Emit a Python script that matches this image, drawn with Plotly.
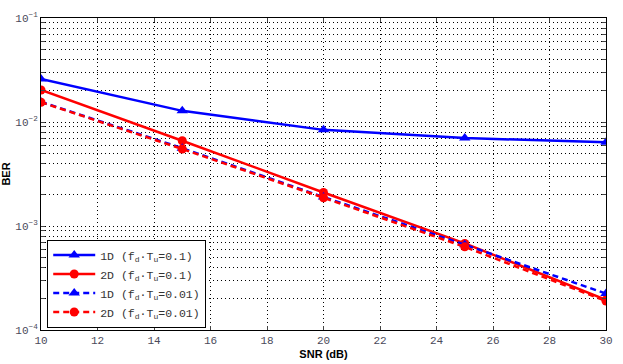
import plotly.graph_objects as go

snr = [10, 15, 20, 25, 30]
ber_1d_01 = [0.0259, 0.0128, 0.0084, 0.0070, 0.0064]
ber_2d_01 = [0.0203, 0.0066, 0.0021, 0.00068, 0.000195]
ber_1d_001 = [0.0156, 0.0056, 0.0019, 0.00066, 0.000224]
ber_2d_001 = [0.0155, 0.0055, 0.00187, 0.00063, 0.00019]

names = ["1D (f<sub>d</sub>·T<sub>u</sub>=0.1)", "2D (f<sub>d</sub>·T<sub>u</sub>=0.1)",
         "1D (f<sub>d</sub>·T<sub>u</sub>=0.01)", "2D (f<sub>d</sub>·T<sub>u</sub>=0.01)"]
series = [ber_1d_01, ber_2d_01, ber_1d_001, ber_2d_001]
colors = ["#0000ff", "#ff0000", "#0000ff", "#ff0000"]
symbols = ["triangle-up", "circle", "triangle-up", "circle"]
dashes = ["solid", "solid", "6px,4px", "6px,4px"]

x_ticks = list(range(10, 31, 2))
y_major = [1e-4, 1e-3, 1e-2, 1e-1]
y_major_text = ["10<sup>−4</sup>", "10<sup>−3</sup>", "10<sup>−2</sup>", "10<sup>−1</sup>"]

yvals, ytext = [], []
for i, d in enumerate(y_major[:-1]):
    for m in range(1, 10):
        yvals.append(m * d)
        ytext.append(y_major_text[i] if m == 1 else "")
yvals.append(y_major[-1])
ytext.append(y_major_text[-1])

fig = go.Figure()
for name, ys, c, s, d in zip(names, series, colors, symbols, dashes):
    fig.add_trace(go.Scatter(
        x=snr, y=ys, name=name, mode="lines+markers",
        line=dict(color=c, width=2.5, dash=d),
        marker=dict(symbol=s, size=9 if s == "circle" else 10, color=c),
    ))

tickfont = dict(family="Liberation Mono, Courier New, monospace", size=11, color="#4a4a5a")

fig.update_layout(
    width=623, height=364,
    margin=dict(l=41, r=17, t=18, b=34, autoexpand=False),
    paper_bgcolor="white", plot_bgcolor="white",
    font=dict(family="Liberation Sans, Arial, sans-serif", color="black"),
    showlegend=True,
    legend=dict(
        x=0.011, y=0.008, xanchor="left", yanchor="bottom",
        bgcolor="white", bordercolor="black", borderwidth=1,
        font=dict(family="Liberation Mono, Courier New, monospace", size=11.5, color="#333333"),
        tracegroupgap=0, itemwidth=42,
    ),
    xaxis=dict(
        range=[10, 30], tickvals=x_ticks, ticks="inside", ticklen=4,
        showline=True, linecolor="black", linewidth=1, mirror="ticks",
        showgrid=True, gridcolor="black", griddash="1px,3px", gridwidth=1,
        zeroline=False, tickfont=tickfont, automargin=False,
        title=dict(text="<b>SNR (dB)</b>", font=dict(size=11, family="Liberation Sans, Arial, sans-serif"), standoff=4),
    ),
    yaxis=dict(
        type="log", range=[-4, -1], tickvals=yvals, ticktext=ytext,
        ticks="inside", ticklen=4,
        showline=True, linecolor="black", linewidth=1, mirror="ticks",
        showgrid=True, gridcolor="black", griddash="1px,3px", gridwidth=1,
        zeroline=False, tickfont=tickfont, automargin=False,
        title=dict(text="<b>BER</b>", font=dict(size=11, family="Liberation Sans, Arial, sans-serif"), standoff=6),
    ),
)

fig.write_html(
    "out.html",
    config={"displayModeBar": False},
    post_script="document.body.style.margin='0';document.body.style.overflow='hidden';",
)
